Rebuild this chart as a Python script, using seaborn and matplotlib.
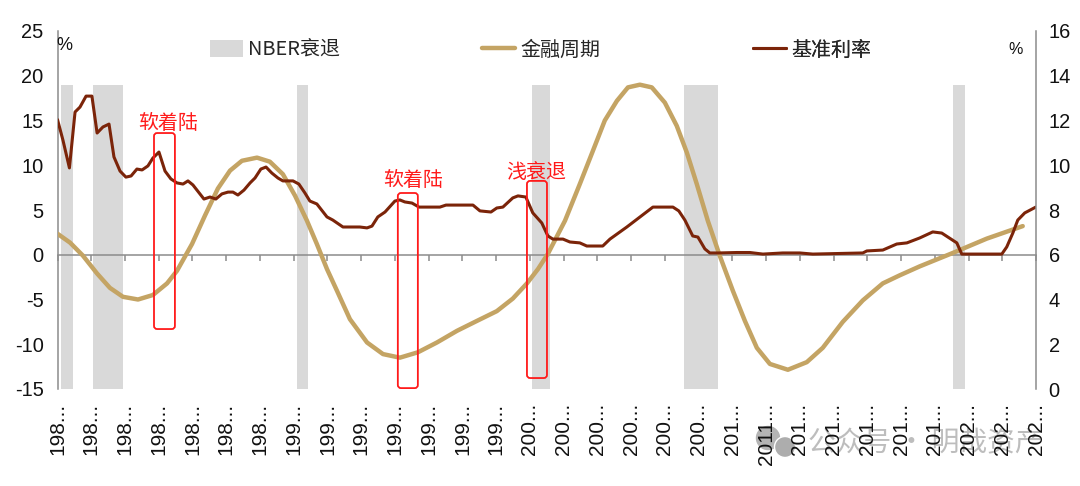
import matplotlib
matplotlib.use("Agg")
import numpy as np
import matplotlib.pyplot as plt
import seaborn as sns
from matplotlib.lines import Line2D
from matplotlib.patches import Circle, FancyBboxPatch, Patch
from matplotlib.transforms import IdentityTransform

# financial cycle, left axis
cycle_years = [1980.0, 1980.56, 1981.13, 1981.76, 1982.33, 1982.91, 1983.58, 1984.24, 1984.87, 1985.31,
               1985.98, 1986.56, 1987.13, 1987.67, 1988.2, 1988.87, 1989.44, 1990.02, 1990.56, 1991.09,
               1991.53, 1991.98, 1992.42, 1993.0, 1993.76, 1994.47, 1995.22, 1996.02, 1996.87, 1997.76,
               1998.64, 1999.53, 2000.24, 2000.87, 2001.36, 2001.8, 2002.56, 2003.22, 2003.8, 2004.33,
               2004.87, 2005.36, 2005.89, 2006.42, 2007.0, 2007.53, 2007.98, 2008.42, 2008.91, 2009.44,
               2010.02, 2010.56, 2011.09, 2011.67, 2012.47, 2013.31, 2014.02, 2014.91, 2015.8, 2016.69,
               2017.44, 2018.33, 2019.8, 2021.31, 2022.91]
cycle_values = [2.35, 1.35, -0.1, -2.1, -3.7, -4.7, -5.0, -4.5, -3.2, -1.8,
                1.2, 4.4, 7.4, 9.4, 10.5, 10.85, 10.4, 9.0, 6.6, 3.8,
                1.2, -1.6, -4.0, -7.2, -9.8, -11.1, -11.5, -10.9, -9.8, -8.5,
                -7.4, -6.3, -4.9, -3.2, -1.6, 0.1, 3.8, 7.9, 11.6, 15.0,
                17.2, 18.7, 19.0, 18.7, 17.0, 14.4, 11.4, 7.9, 3.8, -0.1,
                -4.0, -7.4, -10.4, -12.2, -12.85, -12.0, -10.4, -7.5, -5.1, -3.2,
                -2.3, -1.3, 0.2, 1.8, 3.2]

# policy rate, right axis
rate_years = [1980.0, 1980.24, 1980.53, 1980.78, 1981.0, 1981.27, 1981.53, 1981.76, 1982.02, 1982.29,
              1982.51, 1982.78, 1983.04, 1983.27, 1983.53, 1983.76, 1984.02, 1984.24, 1984.51, 1984.78,
              1985.04, 1985.31, 1985.58, 1985.8, 1986.02, 1986.51, 1986.78, 1987.04, 1987.31, 1987.58,
              1987.8, 1988.02, 1988.29, 1988.56, 1988.78, 1989.04, 1989.27, 1989.53, 1989.8, 1990.02,
              1990.47, 1990.73, 1991.0, 1991.22, 1991.53, 1991.98, 1992.24, 1992.69, 1993.0, 1993.44,
              1993.76, 1993.98, 1994.24, 1994.56, 1995.0, 1995.22, 1995.44, 1995.76, 1996.07, 1997.0,
              1997.27, 1998.47, 1998.78, 1999.27, 1999.53, 1999.8, 2000.24, 2000.47, 2000.82, 2001.13,
              2001.53, 2001.8, 2002.02, 2002.47, 2002.78, 2003.22, 2003.53, 2004.24, 2004.56, 2005.31,
              2006.47, 2007.36, 2007.62, 2007.89, 2008.24, 2008.47, 2008.78, 2009.0, 2009.4, 2010.2,
              2010.78, 2011.36, 2012.24, 2013.0, 2013.58, 2015.8, 2015.98, 2016.69, 2017.31, 2017.76,
              2018.33, 2018.91, 2019.31, 2019.98, 2020.2, 2021.98, 2022.2, 2022.47, 2022.69, 2023.0,
              2023.49]
rate_values = [12.04, 11.13, 9.88, 12.38, 12.6, 13.09, 13.09, 11.44, 11.71, 11.84,
               10.37, 9.74, 9.47, 9.52, 9.83, 9.79, 9.97, 10.32, 10.59, 9.74,
               9.39, 9.21, 9.16, 9.3, 9.12, 8.49, 8.58, 8.49, 8.72, 8.8,
               8.8, 8.67, 8.89, 9.21, 9.43, 9.83, 9.92, 9.65, 9.43, 9.3,
               9.3, 9.16, 8.76, 8.4, 8.27, 7.69, 7.55, 7.24, 7.24, 7.24,
               7.2, 7.28, 7.69, 7.91, 8.4, 8.45, 8.36, 8.31, 8.13, 8.13,
               8.22, 8.22, 7.96, 7.91, 8.09, 8.13, 8.54, 8.63, 8.58, 7.87,
               7.42, 6.84, 6.7, 6.7, 6.57, 6.53, 6.39, 6.39, 6.7, 7.24,
               8.13, 8.13, 7.96, 7.55, 6.84, 6.79, 6.26, 6.08, 6.08, 6.1,
               6.1, 6.03, 6.08, 6.08, 6.03, 6.08, 6.17, 6.21, 6.48, 6.53,
               6.75, 7.02, 6.97, 6.53, 6.03, 6.03, 6.35, 6.97, 7.55, 7.87,
               8.13]

recession_start = [1980.15, 1981.6, 1990.65, 2001.1, 2007.85, 2019.8]
recession_end = [1980.7, 1982.9, 1991.15, 2001.9, 2009.35, 2020.35]
recession_top = 19
recession_bottom = -15

x_ticks = np.arange(1980, 2024, 1.5)
x_labels = ["198..."] * 7 + ["199..."] * 7 + ["200..."] * 6 + ["201...", "2011..."] + ["201..."] * 5 + ["202..."] * 3
left_ticks = [-15, -10, -5, 0, 5, 10, 15, 20, 25]
right_ticks = [0, 2, 4, 6, 8, 10, 12, 14, 16]

# callout boxes, in right axis units
box_left = [1984.29, 1995.13, 2000.87]
box_right = [1985.22, 1996.02, 2001.76]
box_bottom = [2.68, 0.04, 0.49]
box_top = [11.44, 8.76, 9.30]
box_text = ["软着陆", "软着陆", "浅衰退"]
text_x = [1984.93, 1995.8, 2001.3]
text_y = [11.85, 9.3, 9.68]

GOLD = "#C4A464"
RUST = "#7B2409"
AXIS = "#8C8C8C"
BAND = "#D9D9D9"
CJK = ["Noto Sans CJK SC", "DejaVu Sans"]

sns.set_theme(style="white")
plt.rcParams["font.family"] = ["Liberation Sans", "Noto Sans CJK SC"]
plt.rcParams["axes.unicode_minus"] = False

fig = plt.figure(figsize=(10.8, 4.86), dpi=100)
ax = fig.add_axes([57.5 / 1080, 97 / 486, 978.5 / 1080, 358 / 486])
ax2 = ax.twinx()

ax.set_zorder(2)
ax2.set_zorder(3)
ax.patch.set_visible(False)
ax2.patch.set_visible(False)

# watermark sits under the tick labels
fig.patches.append(Circle((768, 48), 11.5, transform=IdentityTransform(), color="#B4B4B4", figure=fig))
fig.patches.append(Circle((785, 39), 10.5, transform=IdentityTransform(), color="#ADADAD", ec="white", lw=1, figure=fig))
fig.text(808 / 1080, 43 / 486, "公众号 · 明哉资产", family=CJK, fontsize=20, color="#BDBDBD", va="center", ha="left", zorder=0)

for start, end in zip(recession_start, recession_end):
    ax.bar(start, recession_top - recession_bottom, width=end - start, bottom=recession_bottom,
           align="edge", color=BAND, lw=0, zorder=1)

sns.lineplot(x=cycle_years, y=cycle_values, ax=ax, color=GOLD, lw=3.2, estimator=None, sort=False, zorder=3)
sns.lineplot(x=rate_years, y=rate_values, ax=ax2, color=RUST, lw=2.2, estimator=None, sort=False)

for name in ["top", "right"]:
    ax.spines[name].set_visible(False)
for name in ["top", "left", "bottom"]:
    ax2.spines[name].set_visible(False)
# moving the spine resets the ticks, so do it before setting them
ax.spines["bottom"].set_position(("data", 0))
for spine in [ax.spines["bottom"], ax.spines["left"], ax2.spines["right"]]:
    spine.set_color(AXIS)
    spine.set_linewidth(1.1)
    spine.set_visible(True)

ax.set_xlim(1980, 2023.5)
ax.set_ylim(-15, 25)
ax2.set_ylim(0, 16)
ax.set_xticks(x_ticks)
ax.set_xticklabels(x_labels, rotation=90, ha="center", va="top", fontsize=15, color="#111111")
ax.set_yticks(left_ticks)
ax2.set_yticks(right_ticks)
ax.tick_params(axis="x", direction="out", length=4, width=1.1, color=AXIS, pad=102.5, bottom=True)
ax.tick_params(axis="y", length=0, pad=10, labelsize=14.4, labelcolor="#111111")
ax2.tick_params(axis="y", length=0, pad=9, labelsize=14.4, labelcolor="#111111")

for i in range(len(box_left)):
    box = FancyBboxPatch((box_left[i], box_bottom[i]), box_right[i] - box_left[i], box_top[i] - box_bottom[i],
                         boxstyle="round,pad=0,rounding_size=0.14", mutation_aspect=1.0,
                         fc="none", ec="#FF1A1A", lw=1.3, zorder=5)
    ax2.add_patch(box)
    ax2.text(text_x[i], text_y[i], box_text[i], family=CJK, fontsize=14.4, color="#FF1A1A", ha="center", va="center", zorder=6)

fig.text(64 / 1080, (486 - 45) / 486, "%", fontsize=13, color="#111111", ha="center", va="center", zorder=10)
fig.text(1016 / 1080, (486 - 50) / 486, "%", fontsize=11.5, color="#111111", ha="center", va="center", zorder=10)

# three separate legends so each entry lands where the reference has it
handles = [Patch(color=BAND, lw=0),
           Line2D([0], [0], color=GOLD, lw=3.2),
           Line2D([0], [0], color=RUST, lw=2.2)]
labels = ["NBER衰退", "金融周期", "基准利率"]
legend_x = [210, 482, 753]
for h, lab, lx in zip(handles, labels, legend_x):
    leg = ax2.legend([h], [lab], frameon=False, prop={"family": CJK, "size": 14.4},
                     handlelength=1.65, handleheight=0.9, handletextpad=0.25, borderpad=0, borderaxespad=0,
                     loc="center left", bbox_to_anchor=(lx / 1080, (486 - 50) / 486), bbox_transform=fig.transFigure)
    ax2.add_artist(leg)

fig.savefig("out.png", dpi=100)
